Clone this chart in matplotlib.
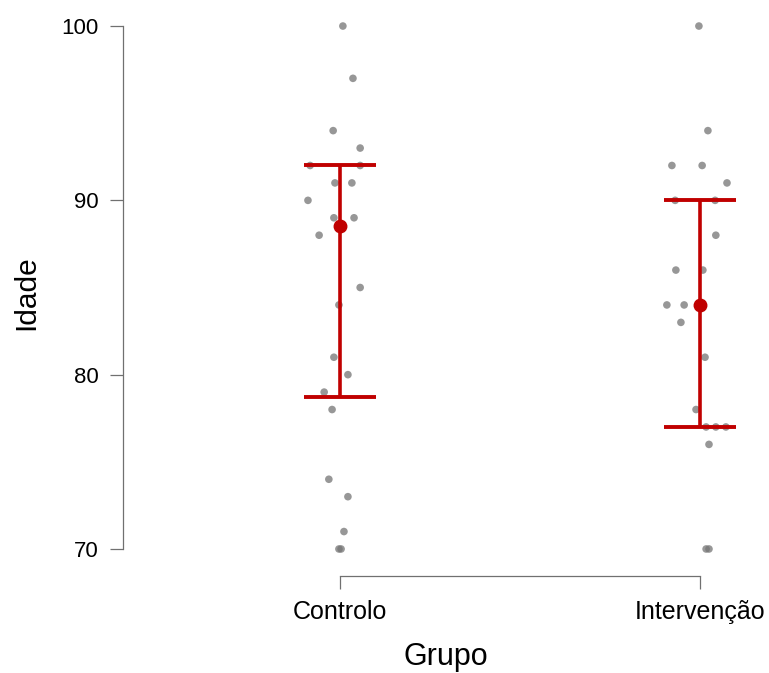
import matplotlib
matplotlib.use("Agg")
import matplotlib.pyplot as plt
import numpy as np

# Data
groups = ["Controlo", "Intervenção"]

controlo_vals = [100, 97, 94, 93, 92, 92, 91, 91, 90, 89, 89, 88, 85, 84,
                 81, 80, 79, 78, 74, 73, 71, 70, 70]
controlo_jit = [0.008, 0.036, -0.019, 0.056, -0.083, 0.056, -0.014, 0.033,
                -0.089, -0.017, 0.039, -0.058, 0.056, -0.003, -0.017, 0.022,
                -0.044, -0.022, -0.031, 0.022, 0.011, -0.003, 0.003]

interv_vals = [100, 94, 92, 92, 91, 90, 90, 88, 86, 86, 84, 84, 83, 81,
               78, 77, 77, 77, 76, 70, 70]
interv_jit = [-0.003, 0.022, -0.078, 0.006, 0.075, -0.069, 0.042, 0.044,
              -0.067, 0.008, -0.092, -0.044, -0.053, 0.014, -0.011, 0.017,
              0.044, 0.072, 0.025, 0.017, 0.025]

centers = [88.5, 84.0]
lower = [78.7, 77.0]
upper = [92.0, 90.0]

red = "#C00000"
plt.rcParams["font.family"] = ["Liberation Sans", "DejaVu Sans"]

fig = plt.figure(figsize=(7.69, 6.73), dpi=100)
ax = fig.add_axes([123 / 769, 97 / 673, 646 / 769, 566 / 673])

xpos = [1, 2]
for x, vals, jit in zip(xpos, [controlo_vals, interv_vals], [controlo_jit, interv_jit]):
    ax.scatter(np.array(jit) + x, vals, s=30, color="#757575", alpha=0.75,
               edgecolors="none", zorder=2)

half = 0.1
ax.vlines(xpos, lower, upper, color=red, linewidth=2.6, zorder=3)
ax.hlines(lower, np.array(xpos) - half, np.array(xpos) + half, color=red,
          linewidth=2.8, zorder=3)
ax.hlines(upper, np.array(xpos) - half, np.array(xpos) + half, color=red,
          linewidth=2.8, zorder=3)
ax.plot(xpos, centers, "o", color=red, markersize=9, zorder=4)

ax.set_xlim(0.3972, 2.1917)
ax.set_ylim(68.45, 100.92)
ax.set_yticks([70, 80, 90, 100])
ax.set_xticks(xpos)
ax.set_xticklabels(groups)

for side in ["top", "right"]:
    ax.spines[side].set_visible(False)
ax.spines["left"].set_bounds(70, 100)
ax.spines["bottom"].set_bounds(1, 2)
for side in ["left", "bottom"]:
    ax.spines[side].set_color("#707070")
    ax.spines[side].set_linewidth(0.9)

ax.tick_params(axis="y", length=9.5, width=0.9, color="#707070",
               labelsize=16, pad=8)
ax.tick_params(axis="x", length=9, width=0.9, color="#707070",
               labelsize=18, pad=8)

ax.set_xlabel("Grupo", fontsize=22, labelpad=13)
ax.set_ylabel("Idade", fontsize=21.5, labelpad=15)

fig.savefig("out.png", dpi=100)
